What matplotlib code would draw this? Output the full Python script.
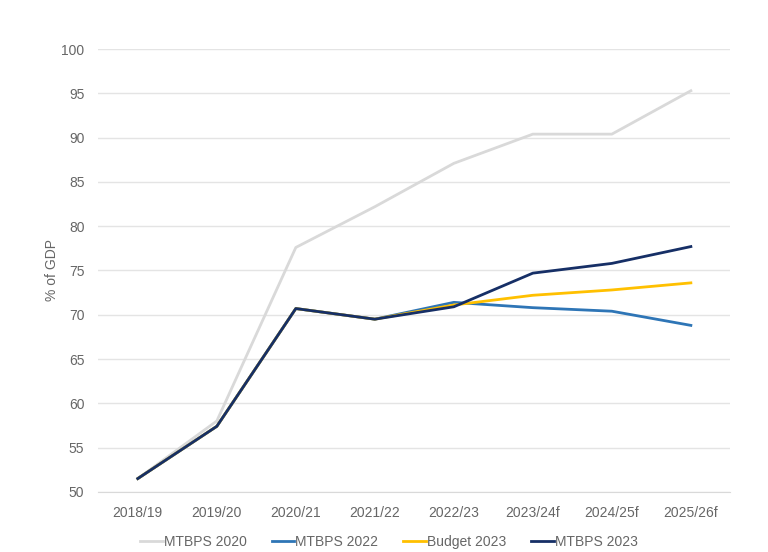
import matplotlib
matplotlib.use("Agg")
import matplotlib.pyplot as plt

plt.rcParams['font.family'] = ['Liberation Sans', 'DejaVu Sans']

years = ['2018/19', '2019/20', '2020/21', '2021/22', '2022/23', '2023/24f', '2024/25f', '2025/26f']
mtbps_2020 = [51.5, 58.0, 77.6, 82.2, 87.1, 90.4, 90.4, 95.3]
mtbps_2022 = [51.5, 57.4, 70.7, 69.5, 71.4, 70.8, 70.4, 68.8]
budget_2023 = [51.5, 57.4, 70.7, 69.5, 71.1, 72.2, 72.8, 73.6]
mtbps_2023 = [51.5, 57.4, 70.7, 69.5, 70.9, 74.7, 75.8, 77.7]

series = [
    ('MTBPS 2020', mtbps_2020, '#d9d9d9'),
    ('MTBPS 2022', mtbps_2022, '#2e75b6'),
    ('Budget 2023', budget_2023, '#ffc000'),
    ('MTBPS 2023', mtbps_2023, '#162f66'),
]

fig = plt.figure(figsize=(7.68, 5.52), dpi=100)
ax = fig.add_axes([0.128, 0.109, 0.823, 0.802])

x = range(len(years))
for name, vals, col in series:
    ax.plot(x, vals, color=col, lw=2.0, label=name)

ax.set_ylim(50, 100)
ax.set_yticks(range(50, 101, 5))
ax.set_xlim(-0.5, len(years) - 0.5)
ax.set_xticks(list(x))
ax.set_xticklabels(years)
ax.grid(axis='y', color='#e4e4e4', lw=1)
ax.set_axisbelow(True)
for s in ['top', 'right', 'left']:
    ax.spines[s].set_visible(False)
ax.spines['bottom'].set_color('#d9d9d9')
ax.tick_params(length=0, labelsize=10, colors='#666666', pad=10)
ax.tick_params(axis='y', pad=10)
ax.set_ylabel('% of GDP', fontsize=10, color='#666666', labelpad=2)

ax.legend(loc='upper center', bbox_to_anchor=(0.46, -0.07), ncol=4, frameon=False,
          fontsize=10, labelcolor='#666666', handlelength=1.6, handletextpad=0.1,
          columnspacing=1.8)

fig.savefig('out.png', dpi=100)
